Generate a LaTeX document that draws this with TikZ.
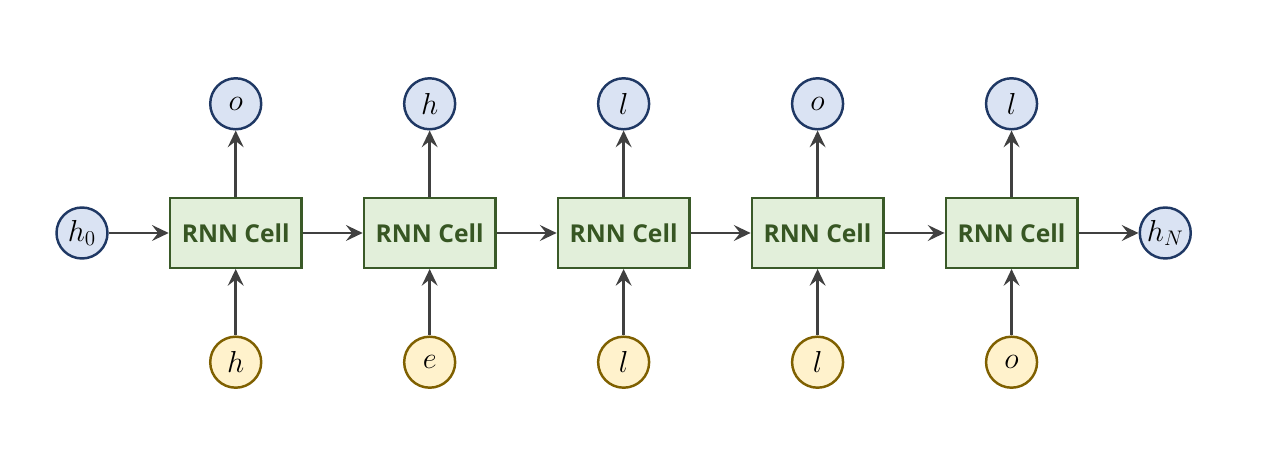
\documentclass[tikz,border=0pt]{standalone}
\usepackage{fontspec}
\setsansfont{Open Sans}
\usetikzlibrary{positioning, arrows.meta}
\definecolor{cellfill}{HTML}{E2EFDA}
\definecolor{celldraw}{HTML}{3A5A28}
\definecolor{celltext}{HTML}{375623}
\definecolor{outfill}{HTML}{DAE3F3}
\definecolor{outdraw}{HTML}{1F3864}
\definecolor{infill}{HTML}{FFF2CC}
\definecolor{indraw}{HTML}{7F6000}
\definecolor{arrgray}{HTML}{404040}

\begin{document}
\begin{tikzpicture}[
  cell/.style={rectangle, draw=celldraw, fill=cellfill, line width=1.4pt,
               minimum width=2.63cm, minimum height=1.39cm, align=center,
               font=\sffamily\bfseries\fontsize{14}{16}\selectfont, text=celltext},
  outc/.style={circle, draw=outdraw, fill=outfill, line width=1.4pt,
               minimum size=1.02cm, inner sep=0pt, font=\fontsize{17}{20}\selectfont},
  inc/.style={circle, draw=indraw, fill=infill, line width=1.4pt,
              minimum size=1.02cm, inner sep=0pt, font=\fontsize{17}{20}\selectfont},
  arr/.style={-{Stealth[length=9.5pt, width=9pt, inset=3.5pt]}, line width=1.5pt, color=arrgray},
  node distance=1.33cm and 1.2cm
]
  \useasboundingbox (0,0) rectangle (25.32,9.22);

  \node[outc] (h0) at (1.64,4.56) {$h_0$};
  \node[cell, right=of h0]    (c1) {RNN Cell};
  \node[cell, right=of c1]    (c2) {RNN Cell};
  \node[cell, right=of c2]    (c3) {RNN Cell};
  \node[cell, right=of c3]    (c4) {RNN Cell};
  \node[cell, right=of c4]    (c5) {RNN Cell};
  \node[outc, right=of c5]    (hN) {$h_N$};

  % outputs
  \node[outc, above=of c1] (o1) {$o$};
  \node[outc, above=of c2] (o2) {$h$};
  \node[outc, above=of c3] (o3) {$l$};
  \node[outc, above=of c4] (o4) {$o$};
  \node[outc, above=of c5] (o5) {$l$};

  % inputs
  \node[inc, below=of c1] (x1) {$h$};
  \node[inc, below=of c2] (x2) {$e$};
  \node[inc, below=of c3] (x3) {$l$};
  \node[inc, below=of c4] (x4) {$l$};
  \node[inc, below=of c5] (x5) {$o$};

  \draw[arr] (h0) -- (c1);
  \draw[arr] (c1) -- (c2);
  \draw[arr] (c2) -- (c3);
  \draw[arr] (c3) -- (c4);
  \draw[arr] (c4) -- (c5);
  \draw[arr] (c5) -- (hN);

  \draw[arr] (c1) -- (o1);
  \draw[arr] (c2) -- (o2);
  \draw[arr] (c3) -- (o3);
  \draw[arr] (c4) -- (o4);
  \draw[arr] (c5) -- (o5);

  \draw[arr] (x1) -- (c1);
  \draw[arr] (x2) -- (c2);
  \draw[arr] (x3) -- (c3);
  \draw[arr] (x4) -- (c4);
  \draw[arr] (x5) -- (c5);
\end{tikzpicture}
\end{document}
